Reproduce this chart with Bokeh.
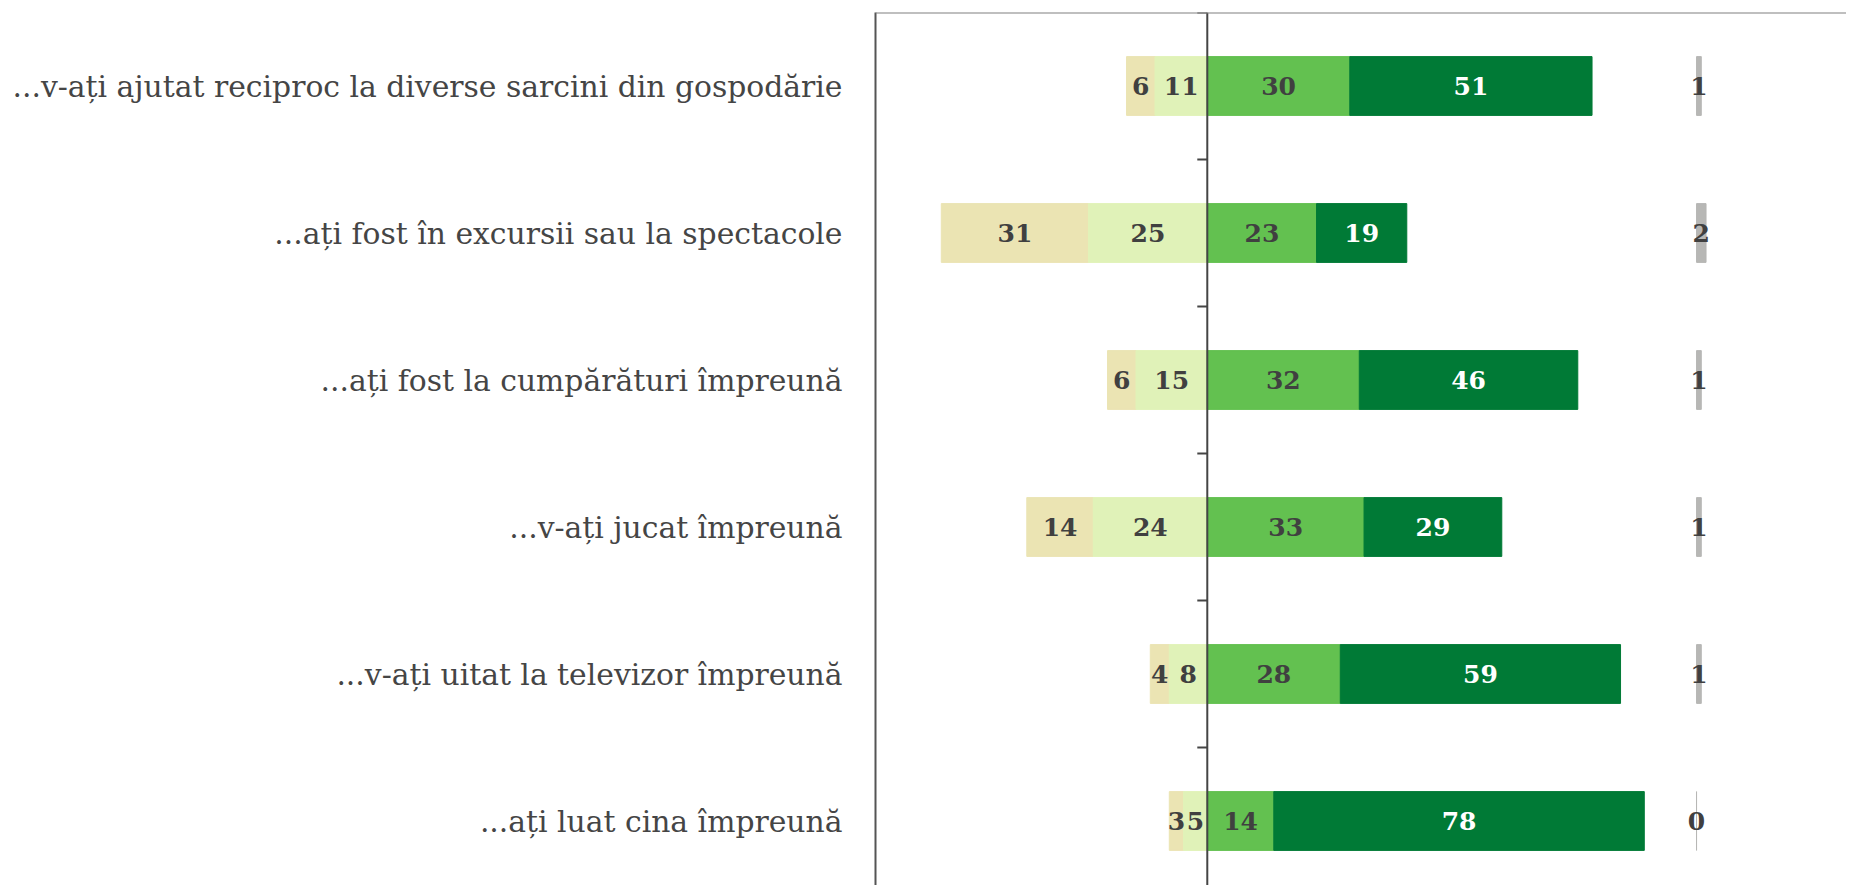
from bokeh.plotting import figure
from bokeh.models import ColumnDataSource, Span, FixedTicker, Range1d
from bokeh.embed import file_html
from bokeh.resources import INLINE
from bokeh.core.properties import value

categories = [
    "...v-ați ajutat reciproc la diverse sarcini din gospodărie",
    "...ați fost în excursii sau la spectacole",
    "...ați fost la cumpărături împreună",
    "...v-ați jucat împreună",
    "...v-ați uitat la televizor împreună",
    "...ați luat cina împreună",
]
neg_far = [6, 31, 6, 14, 4, 3]
neg_near = [11, 25, 15, 24, 8, 5]
pos_near = [30, 23, 32, 33, 28, 14]
pos_far = [51, 19, 46, 29, 59, 78]
no_answer = [1, 2, 1, 1, 1, 0]

NA_START = 103
COLORS = ["#ebe4b3", "#e0f2b8", "#63c150", "#007a36"]
GREY = "#b7b7b5"
DARK = "#404040"

W, H = 1846, 885
BORDER_LEFT = 875
BORDER_TOP = 12
X0 = -69.85
PX = 4.75
ROW_PX = 147
frame_w = W - BORDER_LEFT
frame_h = H - BORDER_TOP
n = len(categories)
ys = [n - i - 0.5 for i in range(n)]

p = figure(width=W, height=H, output_backend="svg", toolbar_location=None,
           x_range=Range1d(X0, X0 + frame_w / PX),
           y_range=Range1d(n - frame_h / ROW_PX, n),
           min_border_left=BORDER_LEFT, min_border_top=BORDER_TOP,
           min_border_bottom=0, min_border_right=0, x_axis_location=None)
p.grid.visible = False
p.outline_line_color = None
p.background_fill_color = "white"

src = ColumnDataSource(dict(
    y=ys,
    a_l=[-(a + b) for a, b in zip(neg_far, neg_near)],
    a_r=[-b for b in neg_near],
    b_l=[0] * n,
    b_r=[c for c in pos_near],
    c_r=[c + d for c, d in zip(pos_near, pos_far)],
    na_l=[NA_START] * n,
    na_r=[NA_START + v for v in no_answer],
))
h = 0.4
p.hbar(y="y", left="a_l", right="a_r", height=h, color=COLORS[0], source=src)
p.hbar(y="y", left="a_r", right="b_l", height=h, color=COLORS[1], source=src)
p.hbar(y="y", left="b_l", right="b_r", height=h, color=COLORS[2], source=src)
p.hbar(y="y", left="b_r", right="c_r", height=h, color=COLORS[3], source=src)
p.hbar(y="y", left="na_l", right="na_r", height=h, fill_color=GREY,
       line_color=GREY, line_width=1, source=src)

# labels
lx, ly, lt, lc = [], [], [], []
for i in range(n):
    y = ys[i]
    segs = [
        (-(neg_far[i] + neg_near[i]), -neg_near[i], neg_far[i], DARK),
        (-neg_near[i], 0, neg_near[i], DARK),
        (0, pos_near[i], pos_near[i], DARK),
        (pos_near[i], pos_near[i] + pos_far[i], pos_far[i], "white"),
        (NA_START, NA_START + no_answer[i], no_answer[i], DARK),
    ]
    for l, r, v, c in segs:
        lx.append((l + r) / 2)
        ly.append(y)
        lt.append(str(v))
        lc.append(c)
p.text(x=lx, y=ly, text=lt, text_color=lc, text_align="center",
       text_baseline="middle", text_font=value("DejaVu Serif"),
       text_font_size="25px", text_font_style="bold")

# zero line with ticks at row boundaries
p.add_layout(Span(location=0, dimension="height", line_color="#454545", line_width=2))
tick_len = 10 / PX
p.segment(x0=[-tick_len] * (n + 1), x1=[0] * (n + 1), y0=list(range(n + 1)),
          y1=list(range(n + 1)), line_color="#454545", line_width=2)
# top border
p.add_layout(Span(location=n, dimension="width", line_color="#808080", line_width=2))

ax = p.yaxis[0]
ax.ticker = FixedTicker(ticks=ys)
ax.major_label_overrides = {y: c for y, c in zip(ys, categories)}
ax.major_tick_line_color = None
ax.minor_tick_line_color = None
ax.axis_line_color = "#555555"
ax.axis_line_width = 2
ax.major_label_standoff = 27
ax.major_label_text_font = "DejaVu Serif"
ax.major_label_text_font_size = "29.8px"
ax.major_label_text_color = "#454545"

open("out.html", "w").write(file_html(p, INLINE))
